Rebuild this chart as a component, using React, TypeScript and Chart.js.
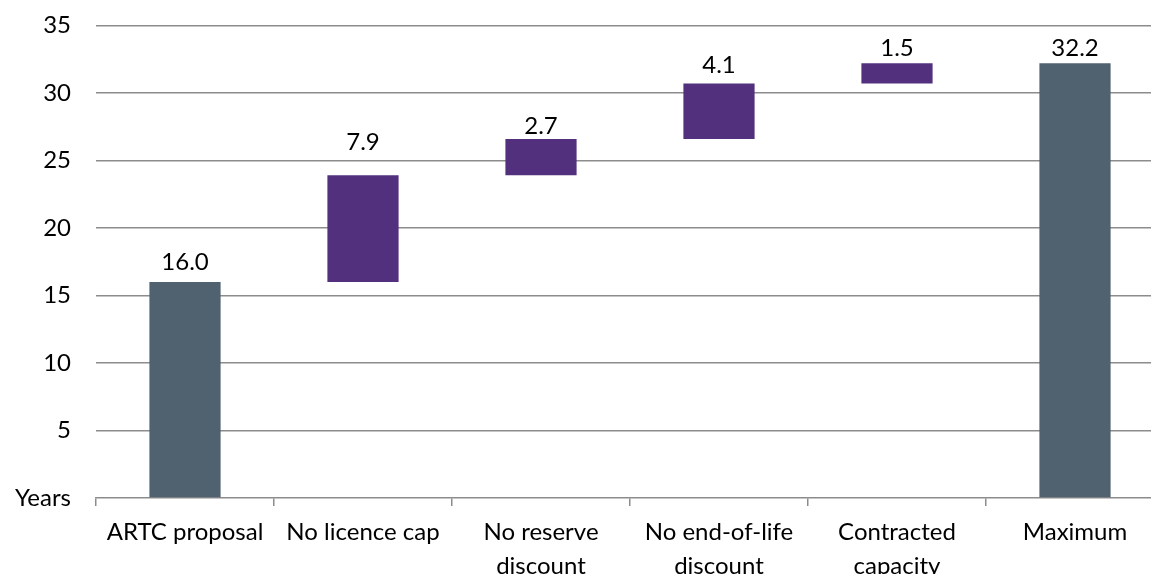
import React, { useEffect, useRef } from "react";
import { Chart, registerables } from "chart.js";

Chart.register(...registerables);

// ---- data ----
const categories: (string | string[])[] = [
  "ARTC proposal",
  "No licence cap",
  ["No reserve", "discount"],
  ["No end-of-life", "discount"],
  ["Contracted", "capacity"],
  "Maximum",
];
const values = [16.0, 7.9, 2.7, 4.1, 1.5, 32.2];
const kinds = ["total", "step", "step", "step", "step", "total"];
// where Excel placed each value label (in years, bottom of text)
const labelAt = [16.9, 25.8, 27.0, 31.45, 32.75, 32.75];
const yTicks = [0, 5, 10, 15, 20, 25, 30, 35];
const zeroTickLabel = "Years";

const GREY = "#506170";
const PURPLE = "#52307e";
const GRID = "#8c8c8c";
const FONT = "Lato";
const SIZE = 24;

export default function App() {
  const ref = useRef<HTMLCanvasElement | null>(null);

  useEffect(() => {
    if (!ref.current) return;
    let run = 0;
    const ranges = values.map((v, i) => {
      if (kinds[i] === "total") {
        run = v;
        return [0, v];
      }
      const r = [run, run + v];
      run += v;
      return r;
    });

    const labelPlugin = {
      id: "valueLabels",
      afterDatasetsDraw(chart: any) {
        const { ctx, scales } = chart;
        const meta = chart.getDatasetMeta(0);
        ctx.save();
        ctx.font = `${SIZE}px ${FONT}`;
        ctx.fillStyle = "#000";
        ctx.textAlign = "center";
        ctx.textBaseline = "alphabetic";
        meta.data.forEach((bar: any, i: number) => {
          const y = scales.y.getPixelForValue(labelAt[i]);
          ctx.fillText(values[i].toFixed(1), bar.x, y);
        });
        ctx.restore();
      },
    };

    const chart = new Chart(ref.current, {
      type: "bar",
      data: {
        labels: categories,
        datasets: [
          {
            data: ranges as any,
            backgroundColor: kinds.map((k) => (k === "total" ? GREY : PURPLE)),
            borderSkipped: false,
            borderWidth: 0,
            categoryPercentage: 1,
            barPercentage: 0.4,
          },
        ],
      },
      options: {
        animation: false,
        responsive: false,
        layout: { padding: { top: 25.5, right: 6, left: 0, bottom: 0 } },
        plugins: { legend: { display: false }, tooltip: { enabled: false } },
        scales: {
          x: {
            grid: {
              drawOnChartArea: false,
              drawTicks: true,
              tickLength: 8,
              color: GRID,
              lineWidth: 1.5,
              offset: true,
            },
            border: { display: true, color: GRID, width: 1.5 },
            ticks: {
              color: "#000",
              font: { family: FONT, size: SIZE, lineHeight: 1.42 },
              padding: 9,
              maxRotation: 0,
              autoSkip: false,
            },
            afterFit: (s: any) => {
              s.height = 76;
              s.paddingLeft = 0;
              s.paddingRight = 0;
            },
          },
          y: {
            min: 0,
            max: 35,
            afterBuildTicks: (s: any) => {
              s.ticks = yTicks.map((v) => ({ value: v }));
            },
            grid: {
              drawTicks: false,
              color: (c: any) => (c.tick && c.tick.value === 0 ? "rgba(0,0,0,0)" : GRID),
              lineWidth: 1.5,
            },
            border: { display: false },
            ticks: {
              color: "#000",
              font: { family: FONT, size: SIZE },
              padding: 25,
              callback: (v: any) => (Number(v) === 0 ? zeroTickLabel : String(v)),
            },
            afterFit: (s: any) => {
              s.width = 96;
              s.paddingTop = 0;
              s.paddingBottom = 0;
            },
          },
        },
      },
      plugins: [labelPlugin],
    });
    return () => chart.destroy();
  }, []);

  return (
    <div
      style={{
        position: "fixed",
        left: 0,
        top: 0,
        width: 1151,
        height: 574,
        overflow: "hidden",
        background: "#fff",
      }}
    >
      <canvas ref={ref} width={1170} height={574} style={{ display: "block" }} />
    </div>
  );
}
